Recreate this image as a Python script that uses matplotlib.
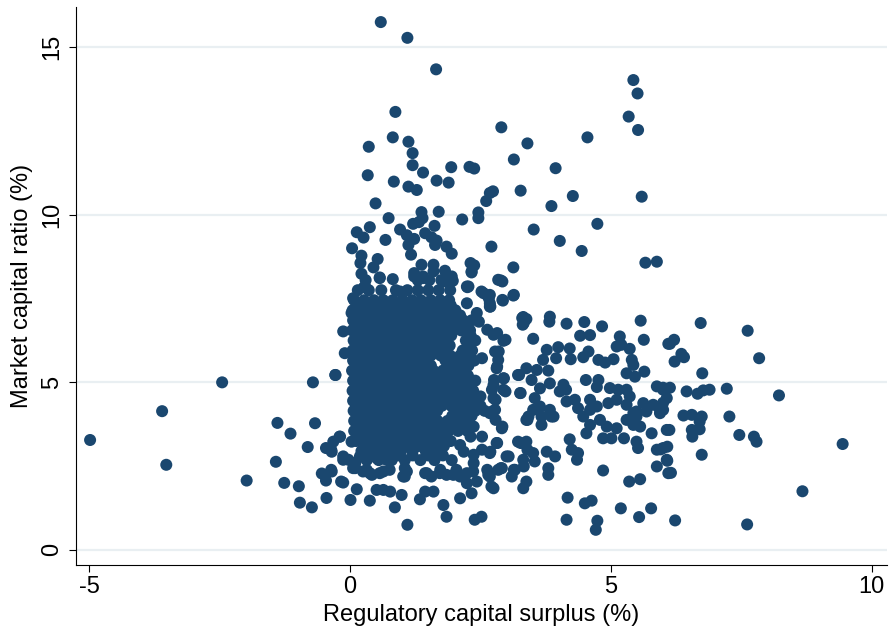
import matplotlib
matplotlib.use('Agg')
import matplotlib.pyplot as plt

# Points: surplus (x, %) and market capital ratio (y, %).

# sparse points above the dense core
upper_surplus = [0.59, 1.10, 1.65, 0.87, 2.90, 3.40, 0.82, 1.12, 0.36, 1.20, 3.14, 1.20, 1.94, 2.29, 2.38,
                 3.94, 1.40, 0.34, 1.66, 1.89, 0.84, 1.12, 1.28, 3.27, 2.74, 2.68, 2.61, 4.27, 0.49, 3.86,
                 2.46, 2.46, 1.37, 1.39, 1.70, 0.74, 2.15, 3.52, 0.38, 0.13, 0.26, 0.96, 1.09, 1.23, 1.12,
                 1.21, 1.32, 1.62, 1.44, 1.56, 1.66, 1.63, 0.68, 4.02, 0.04, 1.85, 1.95, 2.71, 1.17, 0.22,
                 0.20, 0.53, 0.45, 0.22, 0.57, 1.37, 1.60, 1.60, 1.23, 1.40, 1.23, 1.82, 1.95, 1.82, 1.97,
                 2.31, 2.38, 2.33, 3.13, 0.82, 2.89, 0.27, 2.25,
                 5.43, 5.51, 5.34, 5.52, 4.55, 5.59, 4.74, 4.44, 5.66, 5.88,
                 0.29, 0.57, 0.96, 1.40, 1.85, 2.33, 2.27, 2.52, 2.68, 2.84, 2.24, 2.68, 0.06, 0.03, -0.13,
                 -0.10, -0.28]
upper_ratio = [15.75, 15.28, 14.34, 13.07, 12.61, 12.13, 12.31, 12.18, 12.03, 11.84, 11.65, 11.48, 11.42, 11.43, 11.38,
               11.39, 11.26, 11.18, 11.02, 10.96, 10.99, 10.84, 10.74, 10.72, 10.70, 10.65, 10.41, 10.56, 10.34, 10.26,
               10.07, 9.90, 10.08, 9.90, 10.09, 9.90, 9.86, 9.56, 9.63, 9.48, 9.32, 9.56, 9.39, 9.28, 9.10,
               9.73, 9.78, 9.67, 9.45, 9.33, 9.23, 9.10, 9.25, 9.22, 9.00, 9.05, 8.84, 9.05, 8.81, 8.78,
               8.56, 8.68, 8.43, 8.24, 8.13, 8.51, 8.51, 8.31, 8.26, 8.16, 8.16, 8.33, 8.16, 8.01, 8.03,
               8.56, 8.49, 8.31, 8.43, 8.08, 8.04, 7.84, 7.84,
               14.02, 13.62, 12.93, 12.53, 12.31, 10.54, 9.73, 8.92, 8.57, 8.60,
               7.86, 8.11, 7.71, 8.11, 8.11, 8.28, 7.86, 7.71, 7.61, 8.06, 7.36, 7.26, 7.51, 7.07, 6.52,
               5.87, 5.22]

# dense core, read as rows of overlapping markers
core_ratio_levels = [8.05, 7.75, 7.45, 7.15, 6.85, 6.55, 6.25, 5.95, 5.65, 5.35, 5.05, 4.75, 4.45, 4.15,
                     3.85, 3.55, 3.25, 2.95, 2.68,
                     7.30, 7.00, 6.70, 6.40, 6.10, 5.80, 5.50, 5.20, 4.90, 4.60, 4.30, 4.00, 3.70, 3.40,
                     3.10, 2.82]
core_surplus_rows = [
    [0.30, 1.30, 1.52, 1.75],
    [0.15, 0.36, 0.60, 0.88, 1.10, 1.30, 1.50, 1.70, 1.92],
    [0.08, 0.27, 0.46, 0.64, 0.82, 1.01, 1.19, 1.36, 1.55, 1.73, 1.90],
    [0.05, 0.22, 0.40, 0.57, 0.75, 0.93, 1.11, 1.29, 1.47, 1.66, 1.84, 2.02],
    [0.06, 0.19, 0.35, 0.53, 0.71, 0.89, 1.07, 1.25, 1.43, 1.62, 1.80, 1.98, 2.17, 2.33],
    [0.04, 0.16, 0.32, 0.49, 0.67, 0.85, 1.03, 1.22, 1.40, 1.58, 1.76, 1.95, 2.13, 2.30],
    [0.07, 0.22, 0.39, 0.57, 0.75, 0.94, 1.12, 1.30, 1.48, 1.67, 1.85, 2.22, 2.40],
    [0.05, 0.17, 0.33, 0.51, 0.69, 0.87, 1.05, 1.24, 1.42, 1.60, 1.79, 2.16, 2.34],
    [0.06, 0.20, 0.37, 0.55, 0.73, 0.91, 1.10, 1.28, 1.46, 1.83, 2.02, 2.20, 2.38],
    [0.04, 0.16, 0.32, 0.50, 0.68, 0.86, 1.04, 1.23, 1.41, 1.60, 1.78, 1.96, 2.15],
    [0.06, 0.19, 0.36, 0.54, 0.72, 0.90, 1.09, 1.27, 1.45, 1.64, 1.82, 2.00, 2.19, 2.40],
    [0.05, 0.17, 0.34, 0.52, 0.70, 0.88, 1.07, 1.25, 1.44, 1.62, 1.80, 1.99, 2.17, 2.36],
    [0.06, 0.20, 0.37, 0.55, 0.73, 0.92, 1.10, 1.29, 1.47, 1.65, 1.84, 2.02, 2.21, 2.45],
    [0.07, 0.21, 0.38, 0.57, 0.75, 0.93, 1.12, 1.30, 1.49, 1.67, 2.04, 2.22, 2.40, 2.58],
    [0.08, 0.22, 0.40, 0.58, 0.76, 0.95, 1.13, 1.32, 1.50, 1.68, 1.87, 2.05, 2.23],
    [0.08, 0.23, 0.42, 0.60, 0.78, 0.97, 1.15, 1.34, 1.52, 1.70, 1.89, 2.07, 2.25],
    [0.12, 0.28, 0.46, 0.65, 0.83, 1.02, 1.20, 1.38, 1.57, 1.75, 1.93],
    [0.22, 0.40, 0.58, 0.78, 0.98, 1.20, 1.45, 1.68],
    [0.32, 0.55, 0.80, 1.05, 1.35, 1.62, 1.95],
    [0.14, 0.31, 0.49, 0.66, 0.84, 1.02, 1.20, 1.38, 1.56, 1.75, 1.93],
    [0.12, 0.30, 0.48, 0.66, 0.84, 1.02, 1.20, 1.38, 1.56, 1.75, 1.93, 2.11],
    [0.10, 0.27, 0.44, 0.62, 0.80, 0.98, 1.16, 1.34, 1.52, 1.71, 1.89, 2.06, 2.24],
    [0.13, 0.30, 0.48, 0.66, 0.84, 1.03, 1.21, 1.39, 1.57, 1.76, 1.94, 2.31],
    [0.11, 0.28, 0.46, 0.64, 0.82, 1.00, 1.18, 1.37, 1.55, 1.73, 1.91, 2.28],
    [0.12, 0.28, 0.46, 0.64, 0.82, 1.00, 1.19, 1.37, 1.55, 1.74, 1.92, 2.11, 2.29],
    [0.11, 0.27, 0.45, 0.63, 0.81, 1.00, 1.18, 1.36, 1.55, 1.91, 2.10, 2.27],
    [0.12, 0.28, 0.46, 0.64, 0.82, 1.00, 1.18, 1.37, 1.55, 1.73, 1.91, 2.09, 2.26],
    [0.11, 0.27, 0.45, 0.63, 0.81, 0.99, 1.18, 1.36, 1.54, 1.73, 1.91, 2.09, 2.28],
    [0.12, 0.28, 0.46, 0.64, 0.82, 1.01, 1.19, 1.38, 1.56, 1.74, 1.93, 2.11, 2.30],
    [0.13, 0.29, 0.47, 0.66, 0.84, 1.02, 1.21, 1.39, 1.58, 1.76, 1.94, 2.13, 2.32, 2.50],
    [0.14, 0.30, 0.49, 0.67, 0.85, 1.04, 1.22, 1.41, 1.59, 1.96, 2.14, 2.33],
    [0.15, 0.32, 0.51, 0.69, 0.87, 1.06, 1.24, 1.43, 1.61, 1.79, 1.98, 2.16],
    [0.18, 0.37, 0.55, 0.74, 0.92, 1.11, 1.29, 1.47, 1.66, 1.84],
    [0.30, 0.49, 0.68, 0.88, 1.09, 1.31, 1.56, 1.80],
    [0.42, 0.68, 0.92, 1.20, 1.50, 1.78],
]

# points to the right of the core
right_surplus = [2.24, 2.56, 2.66, 2.69, 2.92, 2.92, 3.14, 3.30, 3.33, 2.43, 2.47, 2.63, 2.82, 2.98, 2.85,
                 2.82, 2.53, 3.24, 2.95, 2.76, 2.72, 2.98, 2.79, 3.27, 2.50, 2.40, 2.72, 2.79, 2.92, 3.40,
                 2.37, 2.31, 2.53, 2.82, 3.27, 3.40, 2.11, 2.18, 2.37, 2.53, 2.69, 3.04, 2.37, 2.63, 2.89,
                 3.14, 3.33, 1.47, 1.73, 1.98,
                 2.93, 3.13, 2.68, 3.32, 3.38, 3.31, 3.83, 3.82, 4.15, 4.49, 4.83, 5.57, 3.51, 4.41, 4.60,
                 5.17, 5.20, 5.11, 5.36, 5.40, 5.43, 5.63, 6.10, 2.75, 2.94, 2.78, 2.84, 2.81, 3.77, 3.70,
                 3.99, 3.95, 4.21, 4.23, 4.47, 4.57, 4.76, 4.89, 5.05, 3.38, 3.58, 3.80, 3.22, 3.48, 3.83,
                 3.64, 2.94, 2.94, 2.75, 2.75, 3.26, 4.09, 4.14, 4.02, 4.52, 4.76, 4.73, 4.98, 5.14, 5.30,
                 5.36, 5.30, 5.46, 5.64, 5.88, 6.00, 6.07, 3.54, 3.64, 3.51, 3.83, 3.90, 3.42, 4.15, 4.31,
                 4.37, 4.60, 4.60, 4.73, 4.95, 5.11, 5.30, 5.49, 5.62, 5.81, 5.94, 2.68, 2.78,
                 3.38, 3.67, 3.67, 3.86, 2.91, 2.81, 2.68, 3.22, 3.38, 3.32, 3.51, 3.54, 3.77, 3.93, 3.80,
                 3.80, 3.00, 2.91, 3.10, 3.16, 3.38, 3.32, 2.75, 2.68, 4.47, 4.60, 4.53, 4.79, 4.92, 4.85,
                 5.01, 5.11, 5.25, 5.30, 5.43, 5.49, 4.21, 4.25, 4.37, 4.35, 4.85, 4.17, 4.50, 4.63, 4.15,
                 4.74, 4.71, 5.19, 5.35, 5.56, 5.54, 5.77, 5.49, 5.52, 5.56, 5.78, 5.88, 6.00, 6.07, 5.88,
                 6.10, 5.43, 5.68, 5.94, 6.07,
                 6.72, 7.62, 6.21, 6.13, 6.35, 6.40, 6.22, 7.84, 6.75, 6.00, 6.13, 6.45, 6.66, 6.77, 6.89,
                 7.22, 8.22, 6.00, 6.00, 6.39, 6.55, 6.74, 6.70, 6.55, 6.70, 6.56, 7.27, 6.12, 7.46, 7.74,
                 7.79, 9.44, 6.08, 5.95, 6.74, 6.08, 6.15, 8.67, 6.23, 7.61]
right_ratio = [7.86, 7.66, 7.51, 7.26, 8.01, 7.46, 7.61, 6.92, 6.77, 7.07, 6.81, 6.57, 6.47, 6.27, 5.92,
               5.47, 5.72, 5.22, 5.12, 5.07, 4.78, 4.73, 4.48, 4.68, 4.58, 4.33, 4.13, 3.88, 3.68, 3.88,
               3.68, 3.38, 3.38, 3.19, 3.19, 2.99, 3.13, 2.93, 2.84, 2.99, 2.93, 2.79, 2.59, 2.39, 2.44,
               2.39, 2.49, 2.29, 2.39, 2.24,
               7.44, 7.59, 7.36, 6.95, 6.89, 6.72, 6.96, 6.81, 6.75, 6.80, 6.67, 6.84, 6.30, 6.39, 6.41,
               6.37, 6.12, 6.07, 6.00, 5.67, 5.52, 6.27, 6.15, 6.42, 6.24, 5.92, 5.67, 5.42, 5.97, 5.67,
               6.05, 5.72, 6.01, 5.69, 5.75, 5.92, 5.67, 5.59, 5.69, 5.42, 5.37, 5.35, 5.22, 5.07, 4.97,
               4.82, 5.12, 4.78, 4.92, 4.53, 4.68, 4.93, 4.78, 4.73, 5.07, 5.07, 4.86, 4.83, 4.78, 4.78,
               4.58, 5.27, 5.17, 5.32, 4.88, 4.78, 4.53, 4.53, 4.28, 4.18, 4.18, 3.98, 3.98, 4.43, 4.48,
               4.23, 4.48, 4.18, 4.28, 4.38, 4.48, 4.33, 4.13, 4.38, 4.33, 4.18, 4.08, 4.18,
               3.88, 3.98, 3.73, 3.98, 3.63, 3.19, 2.89, 3.23, 3.23, 2.69, 2.89, 2.64, 2.93, 2.79, 2.44,
               2.24, 2.79, 2.44, 2.19, 2.39, 2.04, 1.84, 1.84, 2.19, 3.98, 3.73, 3.48, 3.88, 3.68, 3.33,
               3.33, 3.63, 3.33, 3.88, 3.73, 3.98, 3.30, 2.99, 2.89, 2.69, 2.37, 1.56, 1.39, 1.47, 0.90,
               0.87, 0.60, 1.24, 2.04, 2.11, 0.98, 1.24, 3.23, 3.04, 3.68, 3.48, 2.99, 3.04, 2.69, 2.49,
               2.29, 4.08, 4.13, 4.08, 3.58,
               6.77, 6.54, 6.27, 6.15, 5.85, 5.75, 5.62, 5.72, 5.27, 4.84, 4.84, 4.73, 4.66, 4.76, 4.78,
               4.81, 4.61, 4.39, 4.18, 4.01, 4.03, 3.98, 3.83, 3.58, 3.60, 3.38, 3.98, 3.58, 3.43, 3.38,
               3.23, 3.16, 3.08, 3.00, 2.84, 2.66, 2.30, 1.75, 0.88, 0.76]

# points to the left of and below the core
left_surplus = [-4.98, -3.60, -3.52, -2.45, -1.98, -1.39, -1.14, -1.42, -1.26, -0.98, -0.96, -0.73, -0.81,
                -0.71, -0.67, -0.54, -0.46, -0.45, -0.38, -0.28, -0.20, -0.36, -0.46, 0.03, -0.13, -0.03,
                -0.36, -0.17, 0.06, 0.09, 0.25, 0.38, 0.57, 0.19, 0.32, 0.51, 0.70, 0.76, 1.02, 1.05,
                -0.35, -0.13, 0.13, 0.01, 0.38, -0.35, -0.32, -0.19, -0.13, 0.10, 0.10]
left_ratio = [3.28, 4.14, 2.54, 5.00, 2.07, 3.79, 3.47, 2.63, 2.00, 1.90, 1.41, 1.27, 3.07,
              5.00, 3.78, 2.28, 2.07, 1.55, 3.00, 5.22, 3.38, 2.99, 3.04, 3.23, 2.79, 2.69,
              2.39, 2.04, 2.44, 2.59, 2.34, 2.29, 2.29, 2.79, 2.69, 2.74, 2.69, 2.39, 2.19, 2.44,
              2.34, 2.01, 1.81, 1.49, 1.47, 2.93, 3.23, 3.38, 2.69, 2.59, 2.44]

low_surplus = [0.51, 0.64, 0.77, 0.99, 0.86, 1.10, 0.32, 0.42, 0.64, 1.05, 1.09, 1.34, 1.44, 1.60, 1.79,
               1.85, 1.44, 1.56, 1.72, 1.85, 2.04, 2.11, 2.24, 2.24, 2.36, 2.43, 2.11, 2.33, 2.39, 2.52,
               2.65, 2.71, 2.84]
low_ratio = [1.79, 1.79, 1.74, 1.64, 1.27, 0.75, 2.39, 2.24, 2.34, 2.19, 2.34, 1.51, 1.74, 1.74, 1.34,
             0.99, 2.29, 2.19, 2.29, 2.24, 2.39, 2.19, 2.29, 1.99, 2.34, 2.04, 1.54, 1.69, 0.90, 0.99,
             2.24, 1.89, 2.39]

core_surplus = []
core_ratio = []
for level, row in zip(core_ratio_levels, core_surplus_rows):
    core_surplus += row
    core_ratio += [level] * len(row)

surplus = upper_surplus + core_surplus + right_surplus + left_surplus + low_surplus
ratio = upper_ratio + core_ratio + right_ratio + left_ratio + low_ratio

plt.rcParams['font.family'] = ['Liberation Sans', 'DejaVu Sans']
plt.rcParams['axes.unicode_minus'] = False

fig = plt.figure(figsize=(8.89, 6.37), dpi=100)
ax = fig.add_axes([76 / 889, 72 / 637, 811 / 889, 558 / 637])

ax.scatter(surplus, ratio, s=75, color='#1a476f', edgecolors='none', zorder=3)

ax.set_xlim(-5.25, 10.29)
ax.set_ylim(-0.45, 16.2)
ax.set_xticks([-5, 0, 5, 10])
ax.set_yticks([0, 5, 10, 15])

# light horizontal grid like the Stata scheme
ax.yaxis.grid(True, color='#e9eff2', linewidth=1.6)
ax.set_axisbelow(True)

ax.spines['top'].set_visible(False)
ax.spines['right'].set_visible(False)
ax.tick_params(direction='out', length=5, width=0.8, labelsize=17)
ax.tick_params(axis='x', pad=3)
ax.tick_params(axis='y', pad=4, labelrotation=90)
for lab in ax.get_yticklabels():
    lab.set_va('center')

ax.set_xlabel('Regulatory capital surplus (%)', fontsize=17, labelpad=4)
ax.set_ylabel('Market capital ratio (%)', fontsize=17, labelpad=6)

fig.savefig('out.png', dpi=100)
